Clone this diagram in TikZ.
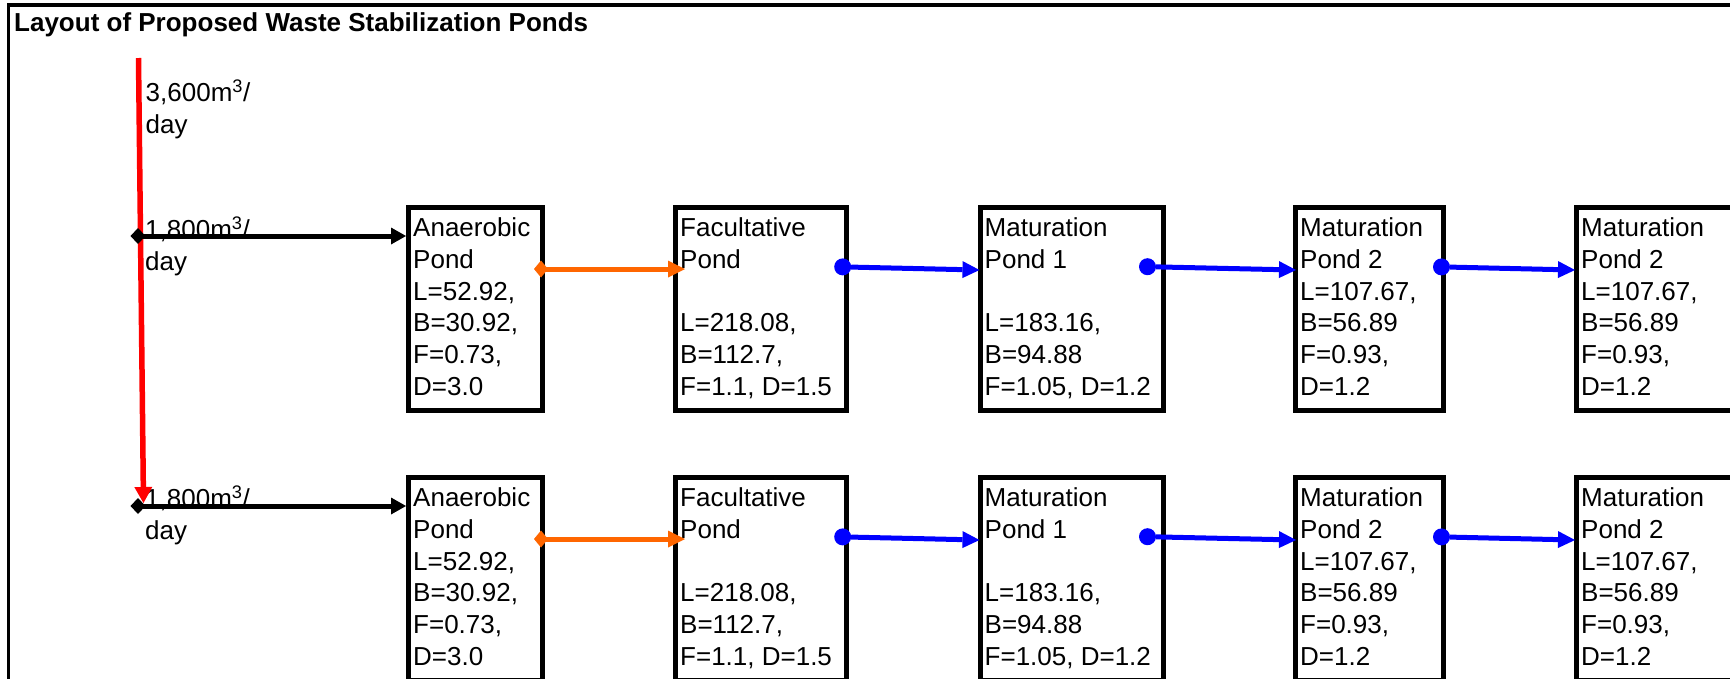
\documentclass[tikz,border=0pt]{standalone}
\usepackage{fontspec}
\setmainfont{Liberation Sans}
\usetikzlibrary{arrows.meta,calc}
\definecolor{flowred}{RGB}{255,0,0}
\definecolor{floworange}{RGB}{255,102,0}
\definecolor{flowblue}{RGB}{0,0,255}
\begin{document}
\begin{tikzpicture}[x=1pt,y=-1pt,
  pond/.style={draw, line width=5pt, rectangle, inner sep=0pt, minimum width=#1, minimum height=203pt},
  ptext/.style={anchor=north west, inner sep=0pt, align=left, font=\fontsize{26pt}{31.7pt}\selectfont},
  blackarrow/.style={line width=5pt, {Diamond[length=15pt,width=16pt,line width=0pt]}-{Triangle[length=15pt,width=17pt,line width=0pt]}},
  orangearrow/.style={draw=floworange, line width=5pt, {Diamond[length=14pt,width=17pt,line width=0pt]}-{Triangle[length=17pt,width=17pt,line width=0pt]}},
  bluearrow/.style={draw=flowblue, line width=5pt, {Circle[length=17pt,line width=0pt]}-{Triangle[length=17pt,width=17pt,line width=0pt]}},
  redarrow/.style={draw=flowred, line width=5.5pt, -{Triangle[length=16pt,width=18pt,line width=0pt]}}
]
\useasboundingbox (0,0) rectangle (1730,678);
\clip (0,0) rectangle (1730,678);
\fill[white] (0,0) rectangle (1730,678);
% frame
\draw[line width=3.5pt] (8.5,700) -- (8.5,5) -- (1750,5);
\node[anchor=base west, inner sep=0pt, font=\bfseries\fontsize{26pt}{31pt}\selectfont] (title) at (14,31) {Layout of Proposed Waste Stabilization Ponds};

% ponds, row 1
\node[pond=134pt] (a1) at (475.5,309) {};
\node[pond=171pt] (f1) at (761,309) {};
\node[pond=183.5pt] (m1) at (1071.75,309) {};
\node[pond=148pt] (n1) at (1369.5,309) {};
\node[pond=168.5pt] (p1) at (1660.75,309) {};
% ponds, row 2
\node[pond=134pt] (a2) at (475.5,579) {};
\node[pond=171pt] (f2) at (761,579) {};
\node[pond=183.5pt] (m2) at (1071.75,579) {};
\node[pond=148pt] (n2) at (1369.5,579) {};
\node[pond=168.5pt] (p2) at (1660.75,579) {};

% pond texts
\foreach \r in {1,2}{
  \node[ptext] (a\r t) at ([xshift=7pt,yshift=-11.5pt]a\r.north west) {\rule{0pt}{20pt}Anaerobic\\Pond\\L=52.92,\\B=30.92,\\F=0.73,\\D=3.0};
  \node[ptext] (f\r t) at ([xshift=7pt,yshift=-11.5pt]f\r.north west) {\rule{0pt}{20pt}Facultative\\Pond\\\mbox{}\\L=218.08,\\B=112.7,\\F=1.1, D=1.5};
  \node[ptext] (m\r t) at ([xshift=7pt,yshift=-11.5pt]m\r.north west) {\rule{0pt}{20pt}Maturation\\Pond 1\\\mbox{}\\L=183.16,\\B=94.88\\F=1.05, D=1.2};
  \node[ptext] (n\r t) at ([xshift=7pt,yshift=-11.5pt]n\r.north west) {\rule{0pt}{20pt}Maturation\\Pond 2\\L=107.67,\\B=56.89\\F=0.93,\\D=1.2};
  \node[ptext] (p\r t) at ([xshift=7pt,yshift=-11.5pt]p\r.north west) {\rule{0pt}{20pt}Maturation\\Pond 2\\L=107.67,\\B=56.89\\F=0.93,\\D=1.2};
}

% inflow labels
\node[ptext] (q0) at (145.5,80) {\rule{0pt}{20pt}3,600m\textsuperscript{3}/\\day};
\node[ptext] (q1) at (145,216.5) {\rule{0pt}{20pt}1,800m\textsuperscript{3}/\\day};
\node[ptext] (q2) at (145,485.5) {\rule{0pt}{20pt}1,800m\textsuperscript{3}/\\day};

% main inflow
\coordinate (src) at (138.5,58);
\coordinate (split) at (143.5,503);
\draw[redarrow] (src) -- (split);

% splits to anaerobic ponds
\coordinate (j1) at (130.5,236);
\coordinate (j2) at (130.5,506);
\draw[blackarrow] (j1) -- (j1 -| a1.west);
\draw[blackarrow] (j2) -- (j2 -| a2.west);

% connections between ponds
\foreach \r in {1,2}{
  \draw[orangearrow] ($(a\r.north east)+(-11,64)$) -- ($(f\r.north west)+(12,64)$);
  \draw[bluearrow] ($(f\r.north east)+(-14.8,61.7)$) -- ($(m\r.north west)+(2,65)$);
  \draw[bluearrow] ($(m\r.north east)+(-27,61.5)$) -- ($(n\r.north west)+(3,65)$);
  \draw[bluearrow] ($(n\r.north east)+(-13,61.7)$) -- ($(p\r.north west)+(1,65)$);
}
\end{tikzpicture}
\end{document}
